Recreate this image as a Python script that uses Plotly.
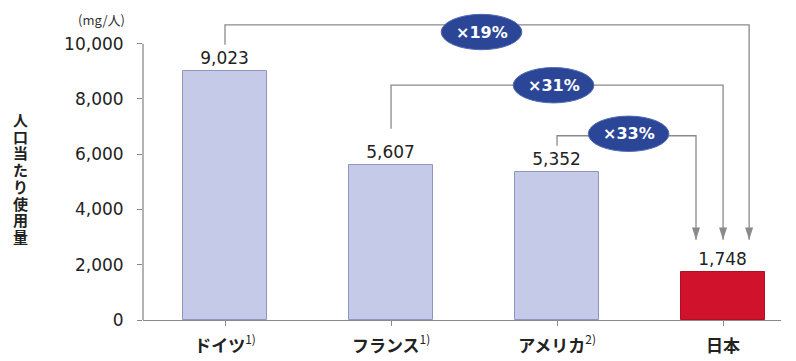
import plotly.graph_objects as go

# Per-capita usage (mg per person)
countries = ["ドイツ", "フランス", "アメリカ", "日本"]
notes = ["1)", "1)", "2)", ""]
usage = [9023, 5607, 5352, 1748]
bar_colors = ["#c4cae8", "#c4cae8", "#c4cae8", "#d1122c"]
edge_colors = ["#8e96be", "#8e96be", "#8e96be", "#b00f25"]
y_ticks = [0, 2000, 4000, 6000, 8000, 10000]
unit_label = "(mg/人)"
y_title = "人口当たり使用量"

NUM_FONT = "DejaVu Sans"
JP_FONT = "Noto Sans CJK JP"
LINE_GRAY = "#8a8a8a"
OVAL_FILL = "#2b4697"
OVAL_EDGE = "#5069b3"

W, H = 796, 361
L, R, T, B = 143, 15, 4, 38
Y_TOP = 11434
X_RANGE = [-0.494, 3.349]

x_idx = list(range(len(countries)))
tick_text = [
    f"<b>{c}</b><sup>{n}</sup>" if n else f"<b>{c}</b>" for c, n in zip(countries, notes)
]

fig = go.Figure()
fig.add_trace(go.Bar(
    x=x_idx, y=usage, width=0.51,
    marker=dict(color=bar_colors, line=dict(color=edge_colors, width=1)),
    text=[f"{v:,}" for v in usage], textposition="outside",
    textfont=dict(family=NUM_FONT, size=17, color="#222222"),
    cliponaxis=False, hoverinfo="skip",
))

# Comparison connectors: each source bar is linked to the Japan bar
target = len(usage) - 1
links = [
    # source index, vertical start above bar, horizontal level, x offset at target, oval centre
    dict(src=0, start=9964, level=10681, dx=0.157, oval=(1.545, 10420)),
    dict(src=1, start=6918, level=8495, dx=0.0, oval=(1.979, 8495)),
    dict(src=2, start=6308, level=6667, dx=-0.163, oval=(2.431, 6738)),
]
ARROW_TIP = 2903
OVAL_HW, OVAL_HH = 0.243, 640

for lk in links:
    s = lk["src"]
    tx = target + lk["dx"]
    fig.add_trace(go.Scatter(
        x=[s, s, tx, tx], y=[lk["start"], lk["level"], lk["level"], ARROW_TIP],
        mode="lines", line=dict(color=LINE_GRAY, width=1.3),
        hoverinfo="skip", showlegend=False,
    ))
    # arrowhead, tip sitting on the end of the connector
    fig.add_trace(go.Scatter(
        x=[tx], y=[ARROW_TIP], mode="markers",
        marker=dict(symbol="arrow", angle=180, size=13, color=LINE_GRAY, line=dict(width=0)),
        hoverinfo="skip", showlegend=False, cliponaxis=False,
    ))
    cx, cy = lk["oval"]
    fig.add_shape(
        type="circle", xref="x", yref="y",
        x0=cx - OVAL_HW, x1=cx + OVAL_HW, y0=cy - OVAL_HH, y1=cy + OVAL_HH,
        fillcolor=OVAL_FILL, line=dict(color=OVAL_EDGE, width=1), layer="above",
    )
    pct = round(100 * usage[target] / usage[s])
    fig.add_annotation(
        x=cx, y=cy, xref="x", yref="y", text=f"<b>×{pct}%</b>", showarrow=False,
        font=dict(family=NUM_FONT, size=16, color="white"),
    )

# Value axis line stops at the top tick
fig.add_shape(type="line", xref="paper", yref="y", x0=0, x1=0, y0=0, y1=y_ticks[-1],
              line=dict(color=LINE_GRAY, width=1.3))

plot_w = W - L - R
plot_h = H - T - B

# Unit label above the value axis
fig.add_annotation(
    xref="paper", yref="paper", x=(127 - L) / plot_w, y=(H - B - 20) / plot_h,
    xanchor="right", yanchor="middle", text=unit_label, showarrow=False,
    font=dict(family=JP_FONT, size=13, color="#333333"),
)

# Vertical axis title, one character per row on a tight pitch
for i, ch in enumerate(y_title):
    py = 120.5 + 16.9 * i
    fig.add_annotation(
        xref="paper", yref="paper", x=(20 - L) / plot_w, y=(H - B - py) / plot_h,
        xanchor="center", yanchor="middle", text=f"<b>{ch}</b>", showarrow=False,
        font=dict(family=JP_FONT, size=15, color="#222222"),
    )

fig.update_layout(
    width=W, height=H, margin=dict(l=L, r=R, t=T, b=B),
    paper_bgcolor="white", plot_bgcolor="white", showlegend=False,
    bargap=0,
)
fig.update_xaxes(
    range=X_RANGE, tickvals=x_idx, ticktext=tick_text, tickson="boundaries",
    ticks="outside", ticklen=5, tickcolor=LINE_GRAY, tickwidth=1.2,
    showline=True, linecolor=LINE_GRAY, linewidth=1.3, showgrid=False, zeroline=False,
    tickfont=dict(family=JP_FONT, size=17, color="#222222"), ticklabelstandoff=5,
)
fig.update_yaxes(
    range=[0, Y_TOP], tickvals=y_ticks, tickformat=",d",
    ticks="outside", ticklen=5, tickcolor=LINE_GRAY, tickwidth=1.2,
    showline=False, showgrid=False, zeroline=False,
    tickfont=dict(family=NUM_FONT, size=17, color="#222222"), ticklabelstandoff=10,
)

fig.write_html("out.html")
